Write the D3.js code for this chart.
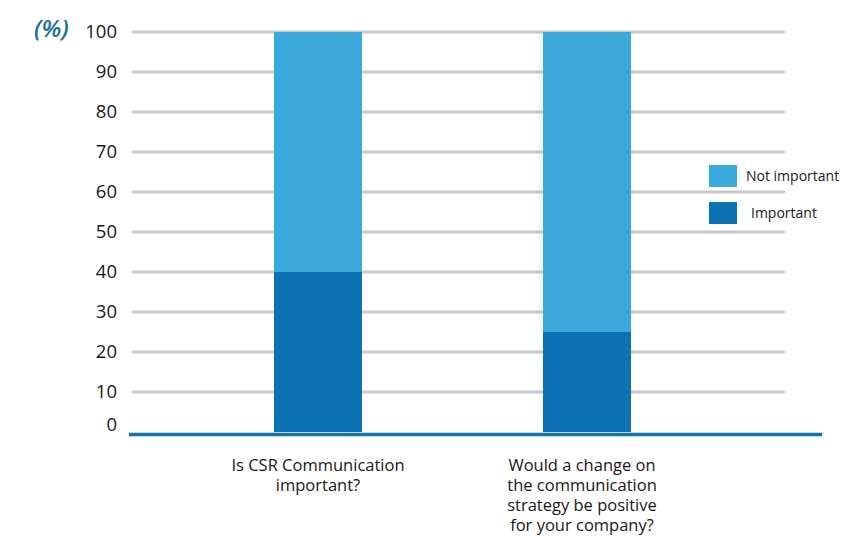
<!DOCTYPE html>
<html>
<head>
<meta charset="utf-8">
<script src="https://cdn.jsdelivr.net/npm/d3@7/dist/d3.min.js"></script>
<style>
  html, body { margin: 0; padding: 0; background: #fff; }
  svg { display: block; font-family: "Open Sans", "Noto Sans", sans-serif; }
</style>
</head>
<body>
<svg id="chart" width="850" height="552"></svg>
<script>
// Survey questions (x categories), each split into two stacked shares (%)
const categories = [
  ["Is CSR Communication", "important?"],
  ["Would a change on", "the communication", "strategy be positive", "for your company?"]
];
const importantValues = [40, 25];
const notImportantValues = [60, 75];
const seriesNames = ["Not important", "Important"];
const tickValues = [0, 10, 20, 30, 40, 50, 60, 70, 80, 90, 100];

const colors = { "Important": "#0c72b4", "Not important": "#3ba9dc" };

const svg = d3.select("#chart");

const y = d3.scaleLinear().domain([0, 100]).range([432, 32]);
const barCenters = [318, 587];
const barWidth = 88;

// Horizontal grid lines
svg.append("g")
  .selectAll("line")
  .data(tickValues.filter(d => d > 0))
  .join("line")
  .attr("x1", 132).attr("x2", 785)
  .attr("y1", d => y(d)).attr("y2", d => y(d))
  .attr("stroke", "#c8c8c8")
  .attr("stroke-width", 3);

// Y axis labels
const yAxis = svg.append("g")
  .attr("transform", "translate(132,0)")
  .call(d3.axisLeft(y).tickValues(tickValues).tickSize(0).tickPadding(15));
yAxis.select(".domain").remove();
yAxis.selectAll("text")
  .attr("font-family", "'Open Sans', sans-serif")
  .attr("font-size", 18.5)
  .attr("fill", "#1a1718")
  .attr("dy", d => d === 0 ? "-0.1em" : "0.32em");

// Stacked data
const rows = categories.map((c, i) => ({
  "Important": importantValues[i],
  "Not important": notImportantValues[i],
  idx: i
}));
const stack = d3.stack().keys(["Important", "Not important"]);
const stacked = stack(rows);

svg.append("g")
  .selectAll("g")
  .data(stacked)
  .join("g")
  .attr("fill", d => colors[d.key])
  .selectAll("rect")
  .data(d => d)
  .join("rect")
  .attr("x", d => barCenters[d.data.idx] - barWidth / 2)
  .attr("width", barWidth)
  .attr("y", d => y(d[1]))
  .attr("height", d => y(d[0]) - y(d[1]));

// Baseline
svg.append("line")
  .attr("x1", 129).attr("x2", 822)
  .attr("y1", y(0) + 2.5).attr("y2", y(0) + 2.5)
  .attr("stroke", "#0e72b5")
  .attr("stroke-width", 3.5);

// Category labels
const labelCenters = [318, 582];
categories.forEach((lines, i) => {
  const t = svg.append("text")
    .attr("text-anchor", "middle")
    .attr("font-size", 16.5)
    .attr("fill", "#1a1718");
  lines.forEach((ln, j) => {
    t.append("tspan")
      .attr("x", labelCenters[i])
      .attr("y", 471 + j * 20)
      .text(ln);
  });
});

// Unit label
svg.append("text")
  .attr("x", 34).attr("y", 37)
  .attr("font-size", 24)
  .attr("font-style", "italic")
  .attr("font-weight", 600)
  .attr("fill", "#1f6e94")
  .text("(%)");

// Legend
const legend = svg.append("g");
const legendRows = [
  { name: seriesNames[0], y: 165, tx: 746 },
  { name: seriesNames[1], y: 202, tx: 751 }
];
legendRows.forEach(r => {
  legend.append("rect")
    .attr("x", 709).attr("y", r.y)
    .attr("width", 28).attr("height", 22)
    .attr("fill", colors[r.name]);
  legend.append("text")
    .attr("x", r.tx).attr("y", r.y + 11)
    .attr("dy", "0.35em")
    .attr("font-size", 14)
    .attr("fill", "#1a1718")
    .text(r.name);
});
</script>
</body>
</html>
